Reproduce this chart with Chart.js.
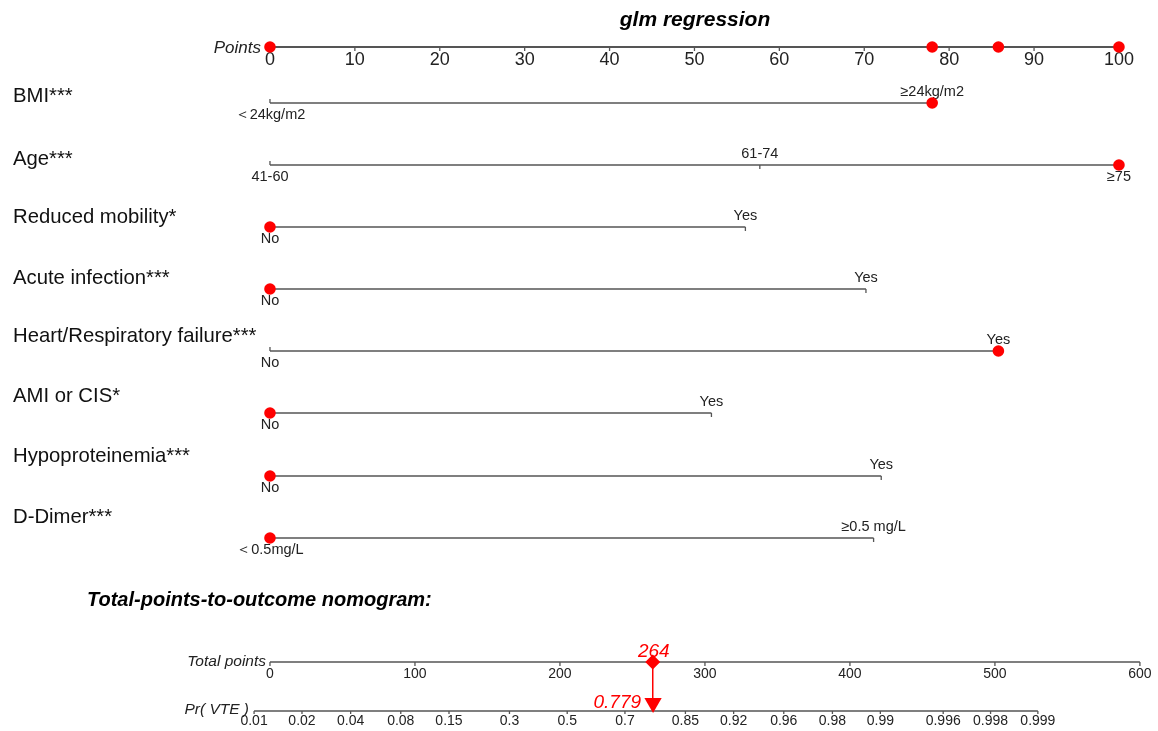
<!DOCTYPE html>
<html>
<head>
<meta charset="utf-8">
<script src="https://cdn.jsdelivr.net/npm/chart.js@4.4.1/dist/chart.umd.min.js"></script>
<style>
    html, body { margin: 0; padding: 0; background: #fff; }
    #wrap { width: 1158px; height: 731px; }
</style>
</head>
<body>
<div id="wrap"><canvas id="nomogram" width="1158" height="731"></canvas></div>
<script>
// --- data ---
const variables = ["BMI***", "Age***", "Reduced mobility*", "Acute infection***",
    "Heart/Respiratory failure***", "AMI or CIS*", "Hypoproteinemia***", "D-Dimer***"];
const levelLabels = [
    ["＜24kg/m2", "≥24kg/m2"],
    ["41-60", "61-74", "≥75"],
    ["No", "Yes"],
    ["No", "Yes"],
    ["No", "Yes"],
    ["No", "Yes"],
    ["No", "Yes"],
    ["＜0.5mg/L", "≥0.5 mg/L"]
];
const levelPoints = [
    [0, 78],
    [0, 57.7, 100],
    [0, 56],
    [0, 70.2],
    [0, 85.8],
    [0, 52],
    [0, 72],
    [0, 71.1]
];
const selectedLevel = [1, 2, 0, 0, 1, 0, 0, 0];
const pointTicks = [0, 10, 20, 30, 40, 50, 60, 70, 80, 90, 100];
const totalTicks = [0, 100, 200, 300, 400, 500, 600];
const probTicks = [0.01, 0.02, 0.04, 0.08, 0.15, 0.3, 0.5, 0.7, 0.85, 0.92, 0.96, 0.98, 0.99, 0.996, 0.998, 0.999];
const totalScore = 264;
const predictedProb = 0.779;
// total points at which Pr = 0.5, and total points per logit unit
const probMidTotal = 205;
const probPerLogit = 47;

// --- layout ---
const totalToPoints = 102.47 / 600;
const pointsAxisY = 47;
const rowY = [103, 165, 227, 289, 351, 413, 476, 538];
const labelY = [96, 159, 217, 278, 336, 396, 456, 517];
const totalAxisY = 662;
const probAxisY = 711;
const lineColor = "#555";
const red = "#ff0000";
const font = "'Liberation Sans', Arial, sans-serif";

const logit = p => Math.log(p / (1 - p));
const totalForProb = p => probMidTotal + probPerLogit * logit(p);
const tx = t => t * totalToPoints;

function segment(x1, x2, y, width) {
    return {
        type: "line",
        data: [{ x: x1, y }, { x: x2, y }],
        borderColor: lineColor,
        borderWidth: width,
        pointRadius: 0,
        order: 5
    };
}

const datasets = [];

// red markers
const chosen = selectedLevel.map((lv, i) => levelPoints[i][lv]);
const dotData = chosen.map((v, i) => ({ x: v, y: rowY[i] }));
[...new Set(chosen)].forEach(v => dotData.push({ x: v, y: pointsAxisY }));
datasets.push({
    type: "scatter", data: dotData, pointRadius: 5.8, pointBackgroundColor: red,
    pointBorderWidth: 0, order: 0
});
datasets.push({
    type: "line",
    data: [{ x: tx(totalScore), y: totalAxisY }, { x: tx(totalScore), y: probAxisY - 10 }],
    borderColor: red, borderWidth: 1.5, pointRadius: 0, order: 1
});
datasets.push({
    type: "scatter", data: [{ x: tx(totalScore), y: totalAxisY }], pointStyle: "rectRot",
    pointRadius: 7.5, pointBackgroundColor: red, pointBorderWidth: 0, order: 0
});
datasets.push({
    type: "scatter", data: [{ x: tx(totalForProb(predictedProb)), y: probAxisY - 8 }], pointStyle: "triangle",
    rotation: 180, pointRadius: 10, pointBackgroundColor: red, pointBorderWidth: 0, order: 0
});

// axes
datasets.push(segment(0, 100, pointsAxisY, 2));
levelPoints.forEach((pts, i) => datasets.push(segment(Math.min(...pts), Math.max(...pts), rowY[i], 1.5)));
datasets.push(segment(0, tx(600), totalAxisY, 1.5));
datasets.push(segment(tx(totalForProb(probTicks[0])), tx(totalForProb(probTicks[probTicks.length - 1])), probAxisY, 1.5));

const textPlugin = {
    id: "nomogramText",
    beforeDatasetsDraw(chart) {
        const ctx = chart.ctx;
        const xs = chart.scales.x;
        const px = v => xs.getPixelForValue(v);
        ctx.save();
        ctx.strokeStyle = lineColor;
        ctx.lineWidth = 1.3;

        const tick = (x, y, len) => {
            ctx.beginPath();
            ctx.moveTo(x, y);
            ctx.lineTo(x, y + len);
            ctx.stroke();
        };

        // title
        ctx.fillStyle = "#000";
        ctx.textAlign = "center";
        ctx.textBaseline = "middle";
        ctx.font = `italic bold 21px ${font}`;
        ctx.fillText("glm regression", 695, 20);

        // points axis
        ctx.font = `italic 17px ${font}`;
        ctx.textAlign = "right";
        ctx.fillStyle = "#222";
        ctx.fillText("Points", 261, pointsAxisY + 1);
        ctx.font = `18px ${font}`;
        ctx.textAlign = "center";
        pointTicks.forEach(v => {
            tick(px(v), pointsAxisY, 4);
            ctx.fillText(String(v), px(v), pointsAxisY + 13);
        });

        // variables
        variables.forEach((name, i) => {
            ctx.fillStyle = "#111";
            ctx.textAlign = "left";
            ctx.font = `20.3px ${font}`;
            ctx.fillText(name, 13, labelY[i]);
            ctx.font = `14.5px ${font}`;
            ctx.fillStyle = "#222";
            ctx.textAlign = "center";
            levelPoints[i].forEach((v, j) => {
                const below = j % 2 === 0;
                tick(px(v), rowY[i], below ? -4 : 4);
                ctx.fillText(levelLabels[i][j], px(v), rowY[i] + (below ? 11.5 : -11.5));
            });
        });

        // bottom section
        ctx.fillStyle = "#000";
        ctx.textAlign = "left";
        ctx.font = `italic bold 20px ${font}`;
        ctx.fillText("Total-points-to-outcome nomogram:", 87, 600);

        ctx.fillStyle = "#222";
        ctx.font = `italic 15.5px ${font}`;
        ctx.textAlign = "right";
        ctx.fillText("Total points", 266, totalAxisY);
        ctx.fillText("Pr( VTE )", 249, probAxisY - 1);

        ctx.font = `14px ${font}`;
        ctx.textAlign = "center";
        totalTicks.forEach(v => {
            tick(px(tx(v)), totalAxisY, 4);
            ctx.fillText(String(v), px(tx(v)), totalAxisY + 12);
        });
        probTicks.forEach(p => {
            const x = px(tx(totalForProb(p)));
            tick(x, probAxisY, 3);
            ctx.fillText(String(p), x, probAxisY + 10);
        });

        // result labels
        ctx.fillStyle = red;
        ctx.font = `italic 19px ${font}`;
        ctx.textAlign = "center";
        ctx.fillText(String(totalScore), px(tx(totalScore)) + 1, totalAxisY - 10);
        ctx.textAlign = "right";
        ctx.fillText(String(predictedProb), px(tx(totalForProb(predictedProb))) - 12, probAxisY - 8);
        ctx.restore();
    }
};

new Chart(document.getElementById("nomogram").getContext("2d"), {
    type: "scatter",
    data: { datasets },
    options: {
        responsive: false,
        animation: false,
        layout: { padding: 0, autoPadding: false },
        plugins: { legend: { display: false }, tooltip: { enabled: false }, title: { display: false } },
        scales: {
            x: { type: "linear", display: false, min: -31.8, max: 104.6 },
            y: { type: "linear", display: false, min: 0, max: 731, reverse: true }
        }
    },
    plugins: [textPlugin]
});
</script>
</body>
</html>
